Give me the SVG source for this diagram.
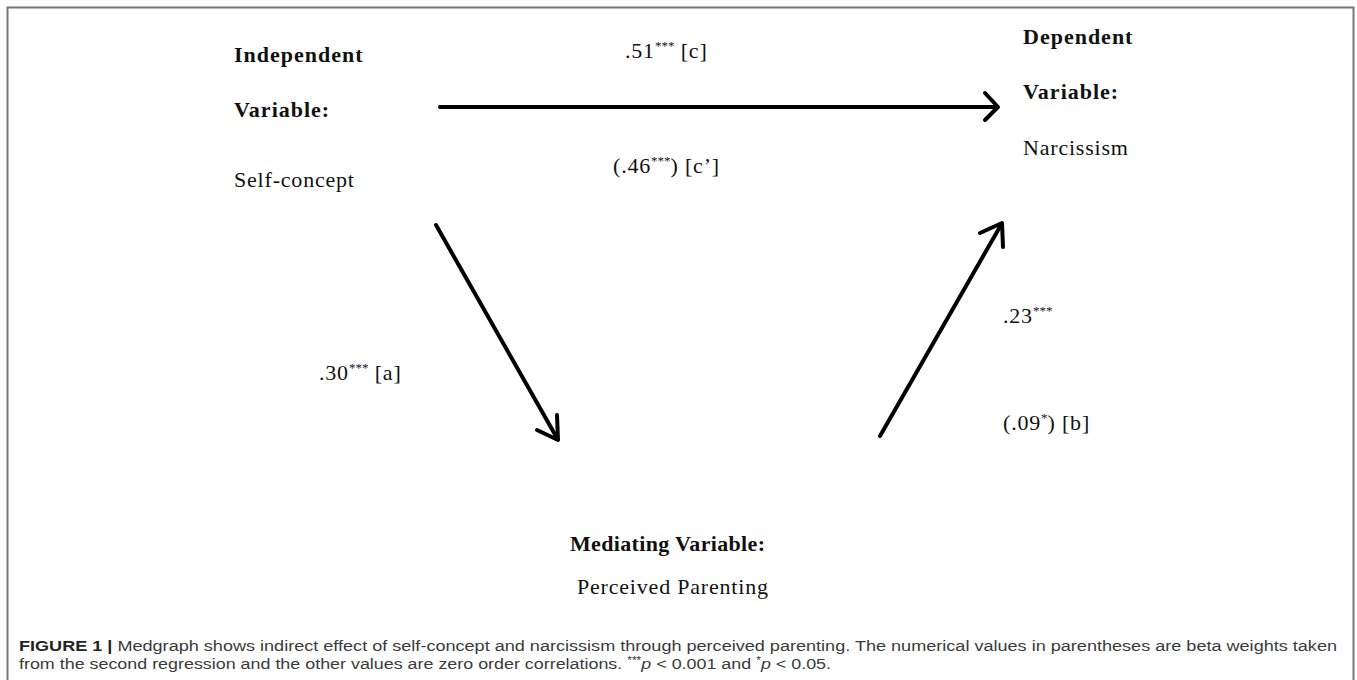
<svg xmlns="http://www.w3.org/2000/svg" width="1357" height="680" viewBox="0 0 1357 680">
<style>
.t{font-family:"Liberation Serif","Times New Roman",serif;font-size:22px;fill:#111;letter-spacing:0.8px}
.b{font-weight:bold;letter-spacing:1px}
.sup{font-size:13px;letter-spacing:0}
.cap{font-family:"Liberation Sans",Arial,sans-serif;font-size:15.5px;fill:#3a3a3a}
.conn{stroke:#000;stroke-width:4;fill:none;stroke-linecap:round;stroke-linejoin:round}
</style>
<rect x="0" y="0" width="1357" height="680" fill="#fff"/>
<rect x="7.5" y="7.5" width="1346" height="720" fill="none" stroke="#777" stroke-width="2"/>
<g id="independent">
<text class="t b" x="234" y="62">Independent</text>
<text class="t b" x="234" y="117">Variable:</text>
<text class="t" x="234" y="187">Self-concept</text>
</g>
<g id="dependent">
<text class="t b" x="1023" y="44">Dependent</text>
<text class="t b" x="1023" y="99">Variable:</text>
<text class="t" x="1023" y="155">Narcissism</text>
</g>
<g id="mediator">
<text class="t b" x="570" y="551" textLength="196" lengthAdjust="spacing">Mediating Variable:</text>
<text class="t" x="577" y="594" letter-spacing="1.3">Perceived Parenting</text>
</g>
<g id="connectors">
<line class="conn" x1="440" y1="107" x2="995" y2="107"/>
<polyline class="conn" stroke-width="3" points="985,93 998,107 985,120"/>
<line class="conn" x1="436" y1="225" x2="557" y2="438"/>
<polyline class="conn" stroke-width="3" points="537,430 558,440 557,415"/>
<line class="conn" x1="880" y1="436" x2="1001" y2="225"/>
<polyline class="conn" stroke-width="3" points="980,233 1002,223 1003,247"/>
</g>
<g id="labels">
<text class="t" x="625" y="58">.51<tspan class="sup" dy="-8">***</tspan><tspan dy="8"> [c]</tspan></text>
<text class="t" x="613" y="173">(.46<tspan class="sup" dy="-8">***</tspan><tspan dy="8">) [c’]</tspan></text>
<text class="t" x="319" y="380">.30<tspan class="sup" dy="-8">***</tspan><tspan dy="8"> [a]</tspan></text>
<text class="t" x="1003" y="323">.23<tspan class="sup" dy="-8">***</tspan></text>
<text class="t" x="1003" y="430">(.09<tspan class="sup" dy="-8">*</tspan><tspan dy="8">) [b]</tspan></text>
</g>
<g id="caption">
<text class="cap" x="19" y="651" textLength="1318" lengthAdjust="spacingAndGlyphs"><tspan font-weight="bold" fill="#222">FIGURE 1 | </tspan>Medgraph shows indirect effect of self-concept and narcissism through perceived parenting. The numerical values in parentheses are beta weights taken</text>
<text class="cap" x="19" y="669" textLength="812" lengthAdjust="spacingAndGlyphs">from the second regression and the other values are zero order correlations. <tspan font-size="10.5" dy="-5">***</tspan><tspan dy="5" font-style="italic">p</tspan> &lt; 0.001 and <tspan font-size="10.5" dy="-5">*</tspan><tspan dy="5" font-style="italic">p</tspan> &lt; 0.05.</text>
</g>
</svg>
